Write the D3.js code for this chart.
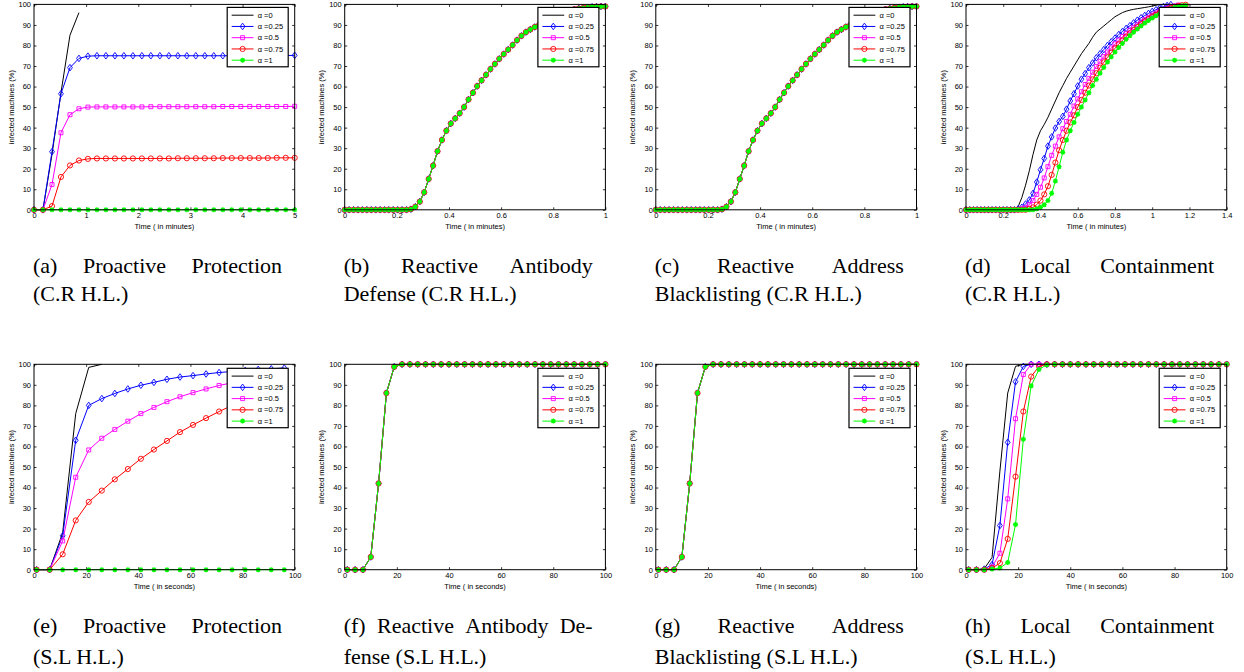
<!DOCTYPE html>
<html>
<head>
<meta charset="utf-8">
<script src="https://cdn.jsdelivr.net/npm/d3@7"></script>
<style>
  body { margin: 0; background: #fff; }
  svg { display: block; background: #fff; }
  .axis text, .lab, .legend text { font-family: "Liberation Sans", Arial, sans-serif; font-size: 7.5px; fill: #000; }
  .caption { font-family: "Liberation Serif", "Times New Roman", serif; font-size: 22px; fill: #000; }
</style>
</head>
<body>
<svg width="1244" height="672"></svg>
<script>
'use strict';

// legend labels
var alphaLabels = ['α =0', 'α =0.25', 'α =0.5', 'α =0.75', 'α =1'];

// tick values
var ticksY = [0, 10, 20, 30, 40, 50, 60, 70, 80, 90, 100];
var ticksA = [0, 1, 2, 3, 4, 5];
var ticksB = [0, 0.2, 0.4, 0.6, 0.8, 1];
var ticksD = [0, 0.2, 0.4, 0.6, 0.8, 1, 1.2, 1.4];
var ticksS = [0, 20, 40, 60, 80, 100];

// (a) proactive protection, C.R H.L. (minutes)
var timeA = [0, 0.172, 0.345, 0.517, 0.69, 0.862, 1.034, 1.207, 1.379, 1.552, 1.724, 1.897, 2.069, 2.241, 2.414,
    2.586, 2.759, 2.931, 3.103, 3.276, 3.448, 3.621, 3.793, 3.966, 4.138, 4.31, 4.483, 4.655, 4.828, 5];
var protCR0 = [0, 0, 27, 57, 85, 96];
var protCR25 = [0, 0, 28.3, 56.5, 69.2, 73.7, 74.8, 75, 75, 75, 75, 75, 75, 75, 75,
    75, 75, 75, 75, 75, 75, 75, 75, 75, 75, 75, 75, 75.1, 75.1, 75.2];
var protCR50 = [0, 0, 12.3, 37.5, 46.3, 49.2, 50, 50.1, 50.1, 50.1, 50.1, 50.1, 50.1, 50.2, 50.2,
    50.2, 50.2, 50.2, 50.2, 50.2, 50.2, 50.3, 50.3, 50.3, 50.3, 50.3, 50.3, 50.3, 50.3, 50.4];
var protCR75 = [0, 0, 1.8, 16, 21.6, 24, 24.8, 25, 25, 25, 25, 25, 25, 25, 25,
    25, 25.1, 25.1, 25.1, 25.1, 25.1, 25.2, 25.2, 25.2, 25.2, 25.2, 25.2, 25.3, 25.3, 25.3];
var protCR100 = [0, 0, 0, 0, 0, 0, 0, 0, 0, 0, 0, 0, 0, 0, 0,
    0, 0, 0, 0, 0, 0, 0, 0, 0, 0, 0, 0, 0, 0, 0];

// (b) and (c) reactive defenses, C.R H.L. (minutes) - all alphas coincide
var timeB = [0, 0.017, 0.034, 0.051, 0.068, 0.085, 0.102, 0.119, 0.136, 0.153, 0.169, 0.186, 0.203, 0.22, 0.237,
    0.254, 0.271, 0.288, 0.305, 0.322, 0.339, 0.356, 0.373, 0.39, 0.407, 0.424, 0.441, 0.458, 0.475, 0.492,
    0.508, 0.525, 0.542, 0.559, 0.576, 0.593, 0.61, 0.627, 0.644, 0.661, 0.678, 0.695, 0.712, 0.729, 0.746,
    0.763, 0.78, 0.797, 0.814, 0.831, 0.847, 0.864, 0.881, 0.898, 0.915, 0.932, 0.949, 0.966, 0.983, 1];
var antibodyCR = [0, 0, 0, 0, 0, 0, 0, 0, 0, 0, 0, 0, 0, 0, 0,
    0.3, 1.5, 4, 8.5, 15, 21.5, 28.5, 34, 38.5, 42, 44.5, 47, 50, 53.7, 57,
    60.2, 63, 65.7, 68.5, 71, 73.5, 75.8, 78, 80.2, 82.6, 84.7, 86.5, 87.8, 89, 90,
    91.5, 92.7, 93.8, 94.8, 95.6, 96.3, 97, 97.6, 98, 98.3, 98.6, 98.8, 98.9, 99, 99];
var blacklistCR = [0, 0, 0, 0, 0, 0, 0, 0, 0, 0, 0, 0, 0, 0, 0,
    0.3, 1.5, 4, 8.5, 15, 21.5, 28.5, 34, 38.5, 42, 44.5, 47, 50, 53.7, 57,
    60.2, 63, 65.7, 68.5, 71, 73.5, 75.8, 78, 80.2, 82.6, 84.7, 86.5, 87.8, 89, 90,
    91.5, 92.7, 93.8, 94.8, 95.6, 96.3, 97, 97.6, 98, 98.3, 98.6, 98.8, 98.9, 99, 99];

// (d) local containment, C.R H.L. (minutes)
var timeD = [0, 0.02, 0.04, 0.06, 0.08, 0.1, 0.12, 0.14, 0.16, 0.18, 0.2, 0.22, 0.24, 0.26, 0.28,
    0.3, 0.32, 0.34, 0.36, 0.38, 0.4, 0.42, 0.44, 0.46, 0.48, 0.5, 0.52, 0.54, 0.56, 0.58,
    0.6, 0.62, 0.64, 0.66, 0.68, 0.7, 0.72, 0.74, 0.76, 0.78, 0.8, 0.82, 0.84, 0.86, 0.88,
    0.9, 0.92, 0.94, 0.96, 0.98, 1, 1.02, 1.04, 1.06, 1.08, 1.1, 1.12, 1.14, 1.16, 1.18];
var localCR0 = [0, 0, 0, 0, 0, 0, 0, 0, 0, 0, 0, 0, 0, 0, 1.5,
    6, 12, 19, 27, 34, 38.5, 41.5, 45, 49, 53, 57, 60.5, 64, 67, 70,
    73, 76, 78.5, 81, 84, 86.5, 88, 89.5, 91, 92.5, 94, 95, 96, 96.7, 97.2,
    97.6, 97.9, 98.2, 98.5, 98.8, 99.2, 99.6, 99.9, 100, 100, 100];
var localCR25 = [0, 0, 0, 0, 0, 0, 0, 0, 0, 0, 0, 0, 0, 0, 0.5,
    1.2, 2.8, 4.8, 8, 13.5, 19.5, 25, 31, 35.5, 39.8, 43, 45.5, 49, 53, 56.5,
    60.3, 63.6, 66.3, 69.2, 71.5, 74, 76, 78, 80, 81.8, 83.6, 85.3, 86.8, 88.3, 89.6,
    91, 92.3, 93.5, 94.6, 95.6, 96.6, 97.4, 98.2, 98.9, 99.5, 99.9];
var localCR50 = [0, 0, 0, 0, 0, 0, 0, 0, 0, 0, 0, 0, 0, 0, 0,
    0.5, 1.2, 2.5, 4.5, 7.5, 11, 15.5, 21, 26.5, 31, 35.5, 39.5, 43, 46.5, 50.5,
    54, 57.5, 61, 64, 67, 69.8, 72.3, 74.6, 76.8, 78.8, 80.8, 82.6, 84.3, 85.9, 87.4,
    88.8, 90.1, 91.4, 92.6, 93.7, 94.8, 95.8, 96.7, 97.5, 98.2, 98.8, 99.3, 99.7];
var localCR75 = [0, 0, 0, 0, 0, 0, 0, 0, 0, 0, 0, 0, 0, 0, 0,
    0, 0, 0.5, 1.2, 2.5, 4.5, 7.5, 11.5, 17, 23, 29, 34, 38.5, 42.5, 46,
    50, 53.5, 57, 60.5, 63.5, 66.5, 69.2, 71.8, 74.2, 76.5, 78.6, 80.6, 82.5, 84.3, 85.9,
    87.5, 89, 90.4, 91.7, 92.9, 94, 95, 96, 96.9, 97.6, 98.3, 98.8, 99.3, 99.6, 99.8];
var localCR100 = [0, 0, 0, 0, 0, 0, 0, 0, 0, 0, 0, 0, 0, 0, 0,
    0, 0, 0, 0, 0.5, 1.2, 2.5, 4.5, 8, 14, 21, 28, 34, 38.5, 42.5,
    46.5, 50, 53.5, 57, 60.5, 63.5, 66.5, 69.3, 72, 74.5, 76.8, 79, 81, 83, 84.8,
    86.5, 88, 89.5, 90.9, 92.2, 93.4, 94.5, 95.5, 96.4, 97.2, 97.9, 98.5, 99, 99.3, 99.5];

// (e) proactive protection, S.L H.L. (seconds)
var timeE = [1, 6, 11, 16, 21, 26, 31, 36, 41, 46, 51, 56, 61, 66, 71, 76, 81, 86, 91, 96];
var protSL0 = [0, 0, 18, 76, 98.5, 100];
var protSL25 = [0, 0, 16.5, 63, 80, 83.3, 85.8, 88, 89.8, 91.2, 92.7, 93.8, 94.5, 95.3, 96, 96.5, 97, 97.5, 97.8, 98.2];
var protSL50 = [0, 0, 14, 45, 58.3, 64, 68.3, 72.3, 76, 79, 81.8, 84.2, 86.2, 88, 89.7, 91, 92.2, 93.2, 94.1, 95];
var protSL75 = [0, 0, 7.5, 24, 33, 38.5, 44, 49, 54, 58.5, 62.7, 67, 70.5, 73.8, 77, 80, 82.5, 85, 87, 89];
var protSL100 = [0, 0, 0, 0, 0, 0, 0, 0, 0, 0, 0, 0, 0, 0, 0, 0, 0, 0, 0, 0];

// (f), (g), (h) S.L H.L. (seconds)
var timeF = [1, 4, 7, 10, 13, 16, 19, 22, 25, 28, 31, 34, 37, 40, 43, 46, 49,
    52, 55, 58, 61, 64, 67, 70, 73, 76, 79, 82, 85, 88, 91, 94, 97, 100];
var antibodySL = [0, 0, 0, 6.2, 42, 86, 98.8, 100, 100, 100, 100, 100, 100, 100, 100, 100, 100,
    100, 100, 100, 100, 100, 100, 100, 100, 100, 100, 100, 100, 100, 100, 100, 100, 100];
var blacklistSL = [0, 0, 0, 6.2, 42, 86, 98.8, 100, 100, 100, 100, 100, 100, 100, 100, 100, 100,
    100, 100, 100, 100, 100, 100, 100, 100, 100, 100, 100, 100, 100, 100, 100, 100, 100];
var localSL0 = [0, 0, 0.5, 6, 48, 86, 99, 100, 100, 100, 100, 100, 100, 100, 100, 100, 100,
    100, 100, 100, 100, 100, 100, 100, 100, 100, 100, 100, 100, 100, 100, 100, 100, 100];
var localSL25 = [0, 0, 0.3, 2.5, 21.5, 62, 91.5, 99, 100, 100, 100, 100, 100, 100, 100, 100, 100,
    100, 100, 100, 100, 100, 100, 100, 100, 100, 100, 100, 100, 100, 100, 100, 100, 100];
var localSL50 = [0, 0, 0, 1.3, 8, 34.5, 73.5, 95, 100, 100, 100, 100, 100, 100, 100, 100, 100,
    100, 100, 100, 100, 100, 100, 100, 100, 100, 100, 100, 100, 100, 100, 100, 100, 100];
var localSL75 = [0, 0, 0, 0.8, 3.2, 15, 45.3, 77, 94, 99, 100, 100, 100, 100, 100, 100, 100,
    100, 100, 100, 100, 100, 100, 100, 100, 100, 100, 100, 100, 100, 100, 100, 100, 100];
var localSL100 = [0, 0, 0, 0.3, 0.8, 3.5, 22, 63.5, 89.5, 97.5, 99.8, 100, 100, 100, 100, 100, 100,
    100, 100, 100, 100, 100, 100, 100, 100, 100, 100, 100, 100, 100, 100, 100, 100, 100];

// captions
var captions = [
    ['(a) Proactive Protection', '(C.R H.L.)'],
    ['(b) Reactive Antibody', 'Defense (C.R H.L.)'],
    ['(c) Reactive Address', 'Blacklisting (C.R H.L.)'],
    ['(d) Local Containment', '(C.R H.L.)'],
    ['(e) Proactive Protection', '(S.L H.L.)'],
    ['(f) Reactive Antibody De-', 'fense (S.L H.L.)'],
    ['(g) Reactive Address', 'Blacklisting (S.L H.L.)'],
    ['(h) Local Containment', '(S.L H.L.)']
];

var styles = [
    { color: '#000000', marker: null },
    { color: '#0000ff', marker: 'M0,-3.3L2.4,0L0,3.3L-2.4,0Z' },
    { color: '#ff00ff', marker: 'M-2,-2H2V2H-2Z' },
    { color: '#ff0000', marker: 'M2.6,0A2.6,2.6 0 1,1 -2.6,0A2.6,2.6 0 1,1 2.6,0Z' },
    { color: '#00ff00', marker: 'M-2.5,0H2.5M0,-2.5V2.5M-1.8,-1.8L1.8,1.8M-1.8,1.8L1.8,-1.8', thick: true }
];

var colLeft = [34, 344.7, 655.8, 966],
    rowTop = [4.4, 364.3],
    W = 260.7,
    H = 205.4,
    captionBase = [[273, 301], [633, 664]],
    captionWidth = 249;

var panels = [
    { x: timeA, ys: [protCR0, protCR25, protCR50, protCR75, protCR100], dom: [0, 5], ticks: ticksA, unit: 'minutes' },
    { x: timeB, ys: [antibodyCR, antibodyCR, antibodyCR, antibodyCR, antibodyCR], dom: [0, 1], ticks: ticksB, unit: 'minutes' },
    { x: timeB, ys: [blacklistCR, blacklistCR, blacklistCR, blacklistCR, blacklistCR], dom: [0, 1], ticks: ticksB, unit: 'minutes' },
    { x: timeD, ys: [localCR0, localCR25, localCR50, localCR75, localCR100], dom: [0, 1.4], ticks: ticksD, unit: 'minutes' },
    { x: timeE, ys: [protSL0, protSL25, protSL50, protSL75, protSL100], dom: [0, 100], ticks: ticksS, unit: 'seconds' },
    { x: timeF, ys: [antibodySL, antibodySL, antibodySL, antibodySL, antibodySL], dom: [0, 100], ticks: ticksS, unit: 'seconds' },
    { x: timeF, ys: [blacklistSL, blacklistSL, blacklistSL, blacklistSL, blacklistSL], dom: [0, 100], ticks: ticksS, unit: 'seconds' },
    { x: timeF, ys: [localSL0, localSL25, localSL50, localSL75, localSL100], dom: [0, 100], ticks: ticksS, unit: 'seconds' }
];

var svg = d3.select('svg');

panels.forEach(function (p, k) {
    var row = Math.floor(k / 4),
        col = k % 4,
        g = svg.append('g').attr('transform', 'translate(' + colLeft[col] + ',' + rowTop[row] + ')'),
        x = d3.scaleLinear().domain(p.dom).range([0, W]),
        y = d3.scaleLinear().domain([0, 100]).range([H, 0]);

    // axes, MATLAB style: ticks inside on all four sides
    var bottom = g.append('g').attr('class', 'axis').attr('transform', 'translate(0,' + H + ')')
        .call(d3.axisBottom(x).tickValues(p.ticks).tickSize(-2.5).tickPadding(3.3).tickFormat(d3.format('~g')));
    var left = g.append('g').attr('class', 'axis')
        .call(d3.axisLeft(y).tickValues(ticksY).tickSize(-2.5).tickPadding(3).tickFormat(d3.format('~g')));
    g.append('g').attr('class', 'axis')
        .call(d3.axisTop(x).tickValues(p.ticks).tickSize(-2.5).tickFormat(''));
    g.append('g').attr('class', 'axis').attr('transform', 'translate(' + W + ',0)')
        .call(d3.axisRight(y).tickValues(ticksY).tickSize(-2.5).tickFormat(''));
    g.selectAll('.axis').attr('font-size', null).attr('font-family', null);
    g.selectAll('.axis .domain').remove();
    g.selectAll('.axis line').attr('stroke', '#000').attr('stroke-width', 0.8);

    g.append('text').attr('class', 'lab')
        .attr('x', W / 2).attr('y', H + 19.5)
        .attr('text-anchor', 'middle')
        .text('Time ( in ' + p.unit + ')');
    g.append('text').attr('class', 'lab')
        .attr('transform', 'translate(-20.5,' + (H / 2) + ') rotate(-90)')
        .attr('text-anchor', 'middle')
        .text('infected machines (%)');

    // series
    p.ys.forEach(function (vals, s) {
        var st = styles[s];
        var line = d3.line()
            .x(function (d, i) { return x(p.x[i]); })
            .y(function (d) { return y(d); });
        g.append('path')
            .attr('d', line(vals))
            .attr('fill', 'none')
            .attr('stroke', st.color)
            .attr('stroke-width', 1);
        if (st.marker) {
            g.selectAll(null).data(vals).enter().append('path')
                .attr('transform', function (d, i) { return 'translate(' + x(p.x[i]) + ',' + y(d) + ')'; })
                .attr('d', st.marker)
                .attr('fill', 'none')
                .attr('stroke', st.color)
                .attr('stroke-width', st.thick ? 1.3 : 0.9);
        }
    });

    // box
    g.append('rect')
        .attr('width', W).attr('height', H)
        .attr('fill', 'none').attr('stroke', '#000').attr('stroke-width', 1);

    // legend
    var lw = 61, lh = 59.4,
        lg = g.append('g').attr('class', 'legend')
            .attr('transform', 'translate(' + (W - 6.5 - lw) + ',' + (row ? 4 : 3) + ')');
    lg.append('rect').attr('width', lw).attr('height', lh)
        .attr('fill', '#fff').attr('stroke', '#000').attr('stroke-width', 1.2);
    alphaLabels.forEach(function (label, s) {
        var st = styles[s],
            ly = 7.8 + s * 11.25;
        lg.append('line').attr('x1', 4.5).attr('x2', 26.3).attr('y1', ly).attr('y2', ly)
            .attr('stroke', st.color).attr('stroke-width', 1);
        if (st.marker) {
            lg.append('path').attr('transform', 'translate(15.4,' + ly + ')')
                .attr('d', st.marker).attr('fill', 'none')
                .attr('stroke', st.color).attr('stroke-width', st.thick ? 1.3 : 0.9);
        }
        lg.append('text').attr('x', 30.5).attr('y', ly).attr('dy', '0.35em').text(label);
    });

    // caption: first line justified, second line left aligned
    var cx = colLeft[col] - 1,
        words = captions[k][0].split(' '),
        nodes = words.map(function (w) {
            return svg.append('text').attr('class', 'caption').attr('y', captionBase[row][0]).text(w);
        }),
        widths = nodes.map(function (n) { return n.node().getComputedTextLength(); }),
        gap = (captionWidth - d3.sum(widths)) / (words.length - 1),
        pos = cx;
    nodes.forEach(function (n, i) {
        n.attr('x', pos);
        pos += widths[i] + gap;
    });
    svg.append('text').attr('class', 'caption')
        .attr('x', cx).attr('y', captionBase[row][1])
        .text(captions[k][1]);
});
</script>
</body>
</html>
